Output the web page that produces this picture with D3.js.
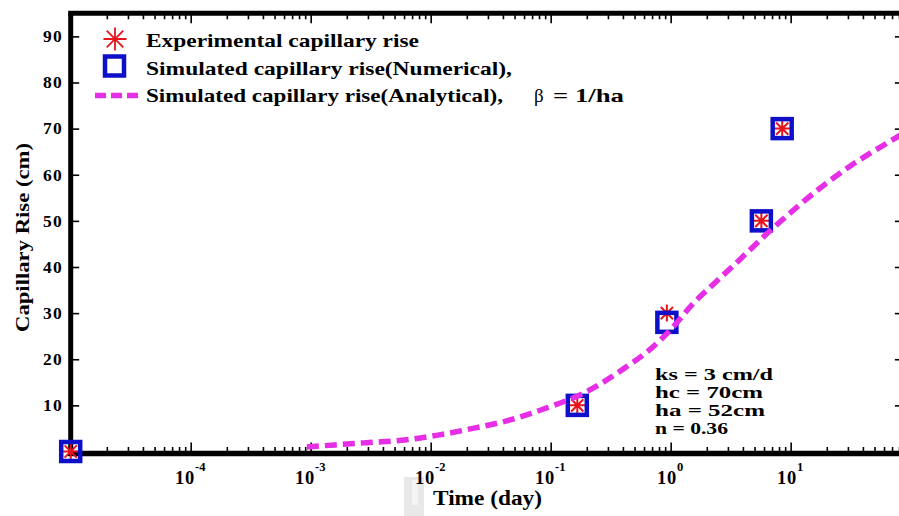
<!DOCTYPE html>
<html><head><meta charset="utf-8">
<script src="https://cdn.jsdelivr.net/npm/d3@7"></script>
<style>
html,body{margin:0;padding:0;background:#fff;}
svg{display:block;}
text{font-family:"Liberation Serif","Times New Roman",serif;font-weight:bold;fill:#000;}
</style></head><body>
<svg id="chart" width="899" height="516"></svg>
<script>
// Experimental capillary rise (time in days, rise in cm)
const expTime = [1e-5, 0.1667, 0.93, 5.7, 8.5];
const expRise = [0, 10, 30, 50, 70];
// Numerical simulation
const numTime = [1e-5, 0.1667, 0.93, 5.7, 8.5];
const numRise = [0, 10, 28, 50, 70];
// Analytical solution, beta = 1/ha
const anaTime = [0.00093, 0.0029, 0.0055, 0.0112, 0.0214, 0.0437, 0.085, 0.214, 0.398, 0.67, 1.04, 1.53, 2.13, 3.56, 6.7, 11.3, 18.6, 31, 43, 71, 87];
const anaRise = [1.0, 1.9, 2.4, 3.5, 4.9, 6.7, 9.1, 13.4, 17.8, 22.1, 26.9, 32.0, 35.6, 41, 47.8, 53.0, 57.6, 61.8, 64.2, 67.6, 69.0];

const xDecades = [1e-4, 1e-3, 1e-2, 1e-1, 1, 10];
const xExponents = ["-4", "-3", "-2", "-1", "0", "1"];
const yTicks = [10, 20, 30, 40, 50, 60, 70, 80, 90];
const legendLabels = ["Experimental capillary rise", "Simulated capillary rise(Numerical),", "Simulated capillary rise(Analytical),"];
const paramLabels = ["ks = 3 cm/d", "hc = 70cm", "ha = 52cm", "n = 0.36"];

const svg = d3.select("#chart");
const L = 70.7, R = 903.4, T = 13.3, B = 451.5;

const x = d3.scaleLog().domain([1e-5, 87]).range([L, R]);
const y = d3.scaleLinear().domain([0, 95]).range([B, T]);

const RED = "#e8141c", BLUE = "#0d10c8", MAG = "#e62ee6";

// faint grey block below the axis
svg.append("rect").attr("x", 404).attr("y", 477).attr("width", 20).attr("height", 39).attr("fill", "#e8e8e8");
svg.append("rect").attr("x", 412).attr("y", 480).attr("width", 6).attr("height", 25).attr("fill", "#f4f4f4");

// ticks
const allX = x.ticks().filter(v => v > 1.5e-5 && v < 86);
const isMajor = v => Math.abs(Math.log10(v) - Math.round(Math.log10(v))) < 1e-9;
const majX = allX.filter(isMajor), minX = allX.filter(v => !isMajor(v));

function tickAxis(axis, tx, ty) {
  const g = svg.append("g").attr("transform", `translate(${tx},${ty})`).call(axis);
  g.select(".domain").remove();
  g.selectAll("text").remove();
  g.selectAll("line").attr("stroke", "#000").attr("stroke-width", 1.6);
  return g;
}
tickAxis(d3.axisTop(x).tickValues(majX).tickSize(9), 0, B);
tickAxis(d3.axisTop(x).tickValues(minX).tickSize(4.5), 0, B);
tickAxis(d3.axisBottom(x).tickValues(majX).tickSize(10), 0, T);
tickAxis(d3.axisBottom(x).tickValues(minX).tickSize(6), 0, T);
tickAxis(d3.axisRight(y).tickValues(yTicks).tickSize(8.5), L, 0);
tickAxis(d3.axisLeft(y).tickValues(yTicks).tickSize(7), R - 1.5, 0);

// axis frame
svg.append("line").attr("x1", L - 2.5).attr("x2", 899).attr("y1", T).attr("y2", T).attr("stroke", "#000").attr("stroke-width", 5);
svg.append("line").attr("x1", L).attr("x2", L).attr("y1", T).attr("y2", B + 4.5).attr("stroke", "#000").attr("stroke-width", 5);
svg.append("line").attr("x1", L - 2.5).attr("x2", 899).attr("y1", B + 2).attr("y2", B + 2).attr("stroke", "#000").attr("stroke-width", 5.5);

// y tick labels
svg.append("g").selectAll("text").data(yTicks).join("text")
  .attr("x", 63).attr("y", d => y(d) + 5.8)
  .attr("text-anchor", "end").attr("font-size", 17.5).attr("letter-spacing", 1.2)
  .text(d => d);

// x tick labels with superscript exponents
const xl = svg.append("g").selectAll("text").data(xDecades).join("text")
  .attr("x", d => x(d) - 0.5).attr("y", 484).attr("text-anchor", "middle");
xl.append("tspan").attr("font-size", 18.5).attr("letter-spacing", 0.8).text("10");
xl.append("tspan").attr("font-size", 12.5).attr("dy", -13.5).text((d, i) => xExponents[i]);

// axis titles
svg.append("text").attr("x", 433).attr("y", 504.5).attr("font-size", 20)
  .attr("textLength", 109).attr("lengthAdjust", "spacingAndGlyphs").text("Time (day)");
svg.append("text").attr("transform", "translate(28.5,237.5) rotate(-90)").attr("text-anchor", "middle")
  .attr("font-size", 19.5).attr("textLength", 189).attr("lengthAdjust", "spacingAndGlyphs").text("Capillary Rise (cm)");

// marker shapes
function starPath(r) {
  const a = r * 0.72;
  return `M${-r},0L${r},0M0,${-r}L0,${r}M${-a},${-a}L${a},${a}M${-a},${a}L${a},${-a}`;
}
const expPts = expTime.map((t, i) => [t, expRise[i]]);
const numPts = numTime.map((t, i) => [t, numRise[i]]);
const anaPts = anaTime.map((t, i) => [t, anaRise[i]]);

svg.append("g").selectAll("path").data(expPts).join("path")
  .attr("transform", d => `translate(${x(d[0])},${y(d[1])})`)
  .attr("d", starPath(8.5)).attr("fill", "none").attr("stroke", RED).attr("stroke-width", 2);

const SQ = 19;
svg.append("g").selectAll("rect").data(numPts).join("rect")
  .attr("x", d => x(d[0]) - SQ / 2).attr("y", d => y(d[1]) - SQ / 2)
  .attr("width", SQ).attr("height", SQ)
  .attr("fill", "none").attr("stroke", BLUE).attr("stroke-width", 4.5);

const line = d3.line().x(d => x(d[0])).y(d => y(d[1])).curve(d3.curveMonotoneX);
svg.append("path").datum(anaPts).attr("d", line)
  .attr("fill", "none").attr("stroke", MAG).attr("stroke-width", 5.5).attr("stroke-dasharray", "12,6");

// legend
const leg = svg.append("g");
leg.append("path").attr("transform", "translate(115,39)").attr("d", starPath(11.5))
  .attr("fill", "none").attr("stroke", RED).attr("stroke-width", 1.8);
leg.append("rect").attr("x", 114.5 - SQ / 2).attr("y", 66 - SQ / 2).attr("width", SQ).attr("height", SQ)
  .attr("fill", "none").attr("stroke", BLUE).attr("stroke-width", 4.5);
leg.append("line").attr("x1", 95).attr("x2", 140).attr("y1", 95.5).attr("y2", 95.5)
  .attr("stroke", MAG).attr("stroke-width", 5.5).attr("stroke-dasharray", "11,5");
const legWidths = [273, 366, 357];
const legBase = [46.5, 74.5, 102];
leg.selectAll("text.lab").data(legendLabels).join("text").attr("class", "lab")
  .attr("x", 146).attr("y", (d, i) => legBase[i]).attr("font-size", 19.5)
  .attr("textLength", (d, i) => legWidths[i]).attr("lengthAdjust", "spacingAndGlyphs")
  .text(d => d);
leg.append("text").attr("x", 534).attr("y", 102).attr("font-size", 19)
  .style("font-weight", "normal").text("β");
leg.append("text").attr("x", 553).attr("y", 102).attr("font-size", 19.5)
  .attr("textLength", 71).attr("lengthAdjust", "spacingAndGlyphs").text("= 1/ha");

// model parameters
const paramWidths = [118, 108, 110, 73];
svg.append("g").selectAll("text").data(paramLabels).join("text")
  .attr("x", 655).attr("y", (d, i) => 380 + i * 18).attr("font-size", 16.5)
  .attr("textLength", (d, i) => paramWidths[i]).attr("lengthAdjust", "spacingAndGlyphs")
  .text(d => d);
</script>
</body></html>
